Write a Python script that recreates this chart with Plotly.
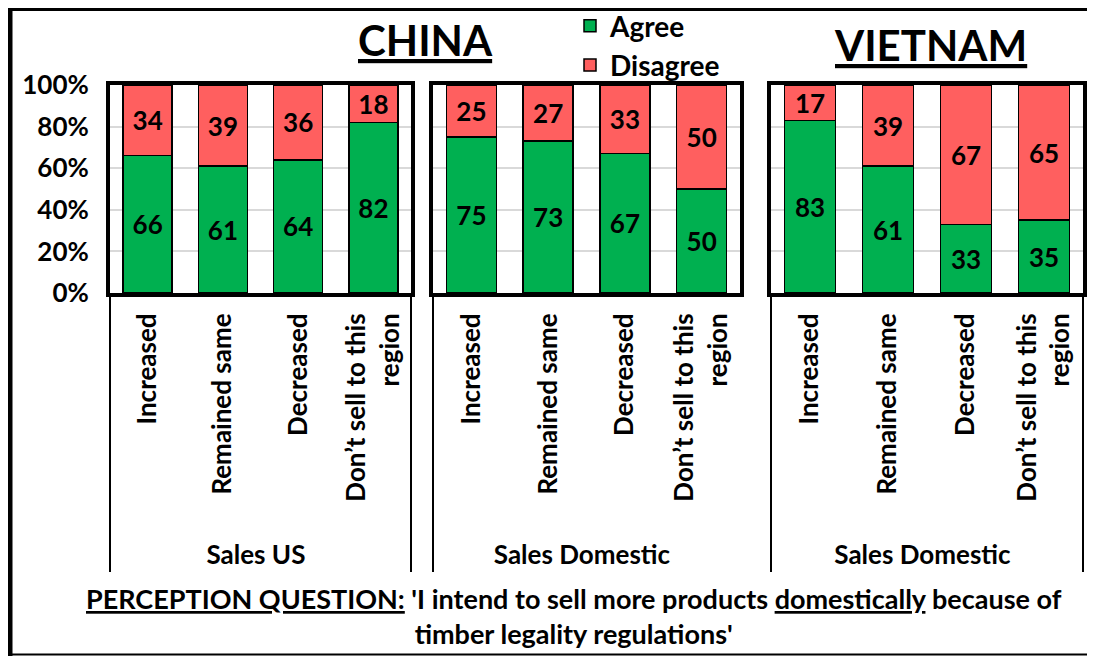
import plotly.graph_objects as go

# ---- data ----
categories = ["Increased", "Remained same", "Decreased", "Don’t sell to this<br>region"]
group_labels = ["Sales US", "Sales Domestic", "Sales Domestic"]
country_titles = ["CHINA", "VIETNAM"]
china_us_agree = [66, 61, 64, 82]
china_us_disagree = [34, 39, 36, 18]
china_dom_agree = [75, 73, 67, 50]
china_dom_disagree = [25, 27, 33, 50]
vietnam_dom_agree = [83, 61, 33, 35]
vietnam_dom_disagree = [17, 39, 67, 65]
y_tick_vals = [0, 20, 40, 60, 80, 100]
y_tick_text = ["0%", "20%", "40%", "60%", "80%", "100%"]
question_text = ("<u>PERCEPTION QUESTION:</u> 'I intend to sell more products "
                 "<u>domestically</u> because of<br>timber legality regulations'")

GREEN = "#00B050"
RED = "#FF5F5F"
FONT = "Lato"
W, H = 1095, 656
OFF = 8  # page body margin
FW, FH = W - 2 * OFF, H - OFF  # figure size


def px(xp):
    return (xp - OFF) / FW


def py(yp):
    return 1 - (yp - OFF) / FH


panels = [
    (group_labels[0], china_us_agree, china_us_disagree),
    (group_labels[1], china_dom_agree, china_dom_disagree),
    (group_labels[2], vietnam_dom_agree, vietnam_dom_disagree),
]
# plot-area pixel extents (screen coords)
x_px = [(110, 411), (433, 740), (771, 1083)]
y_px = (85, 293)

# leading no-break spaces push the group label row a little lower
PAD = "\u00a0" * 3
axis_cats = [PAD + c for c in categories]

fig = go.Figure()
for i, (grp, agree, disagree) in enumerate(panels):
    xa = "x" if i == 0 else f"x{i+1}"
    ya = "y" if i == 0 else f"y{i+1}"
    xcat = [[grp] * len(axis_cats), axis_cats]
    for name, vals, col in (("Agree", agree, GREEN), ("Disagree", disagree, RED)):
        fig.add_trace(go.Bar(
            x=xcat, y=vals, name=name, xaxis=xa, yaxis=ya,
            marker=dict(color=col, line=dict(color="black", width=1.5)),
            text=[str(v) for v in vals], textposition="inside", textangle=0,
            insidetextanchor="middle", constraintext="none",
            textfont=dict(family=FONT, size=26, color="black", weight="bold"),
            showlegend=(i == 0), legendgroup=name, hoverinfo="skip",
        ))

layout = dict(
    width=FW, height=FH, barmode="stack", bargap=0.35,
    margin=dict(l=0, r=0, t=0, b=0, autoexpand=False),
    paper_bgcolor="white", plot_bgcolor="white",
    font=dict(family=FONT, size=26, color="black", weight="bold"),
    uniformtext=dict(minsize=26, mode="show"),
    showlegend=True,
    legend=dict(x=px(570), y=py(1), xanchor="left", yanchor="top",
                font=dict(family=FONT, size=28, color="black", weight="bold"),
                itemwidth=30, tracegroupgap=0, bgcolor="rgba(0,0,0,0)",
                traceorder="normal"),
)
for i in range(3):
    xk = "xaxis" if i == 0 else f"xaxis{i+1}"
    yk = "yaxis" if i == 0 else f"yaxis{i+1}"
    ya = "y" if i == 0 else f"y{i+1}"
    xa = "x" if i == 0 else f"x{i+1}"
    layout[xk] = dict(
        domain=[px(x_px[i][0]), px(x_px[i][1])], anchor=ya, type="multicategory",
        showline=True, mirror=True, linewidth=4, linecolor="black",
        showgrid=False, ticks="", tickangle=-90, automargin=False,
        showdividers=True, dividercolor="black", dividerwidth=1.5,
        ticklabelstandoff=6,
        tickfont=dict(family=FONT, size=26, color="black", weight="bold"),
        fixedrange=True,
    )
    layout[yk] = dict(
        domain=[py(y_px[1]), py(y_px[0])], anchor=xa, range=[0, 100],
        tickvals=y_tick_vals, ticktext=y_tick_text, showticklabels=(i == 0),
        showline=True, mirror=True, linewidth=4, linecolor="black",
        showgrid=True, gridcolor="#D9D9D9", gridwidth=1.5, zeroline=False,
        ticks="", automargin=False, ticklabelstandoff=12,
        tickfont=dict(family=FONT, size=26, color="black", weight="bold"),
        fixedrange=True,
    )
fig.update_layout(**layout)

# country titles
fig.add_annotation(text=f"<u>{country_titles[0]}</u>", x=px(425), y=py(40),
                   xref="paper", yref="paper", showarrow=False,
                   xanchor="center", yanchor="middle",
                   font=dict(family=FONT, size=42, color="black", weight="bold"))
fig.add_annotation(text=f"<u>{country_titles[1]}</u>", x=px(930), y=py(45),
                   xref="paper", yref="paper", showarrow=False,
                   xanchor="center", yanchor="middle",
                   font=dict(family=FONT, size=42, color="black", weight="bold"))
# question text
fig.add_annotation(text=question_text, x=px(574), y=py(616),
                   xref="paper", yref="paper", showarrow=False, align="center",
                   xanchor="center", yanchor="middle",
                   font=dict(family=FONT, size=27, color="black", weight="bold"))
# outer border (top, left, bottom)
fig.add_shape(type="line", xref="paper", yref="paper",
              x0=px(5), x1=1.0, y0=py(9), y1=py(9),
              line=dict(color="black", width=4), layer="above")
fig.add_shape(type="line", xref="paper", yref="paper",
              x0=px(10), x1=px(10), y0=py(5), y1=py(656),
              line=dict(color="black", width=5), layer="above")
fig.add_shape(type="line", xref="paper", yref="paper",
              x0=px(5), x1=1.0, y0=py(654.5), y1=py(654.5),
              line=dict(color="black", width=2), layer="above")

fig.write_html("out.html")
